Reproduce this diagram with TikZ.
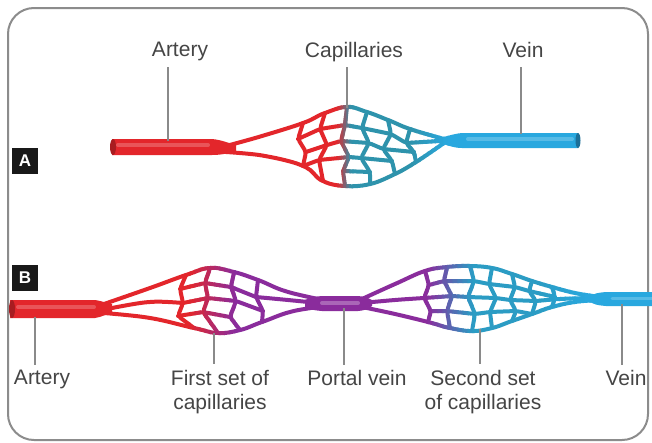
\documentclass[tikz,border=0pt]{standalone}
\usepackage{fontspec}
\newfontfamily\labelfont{Liberation Sans}

\definecolor{Ared}{HTML}{E3262B}
\definecolor{Ateal}{HTML}{2E93AC}
\definecolor{Acyan}{HTML}{29A8DF}
\definecolor{Bpurple}{HTML}{8A2C9C}
\definecolor{Bteal}{HTML}{2B9CC4}
\definecolor{reddark}{HTML}{A81C20}
\definecolor{bluedark}{HTML}{1C6F98}
\definecolor{txt}{HTML}{454545}
\definecolor{frame}{HTML}{8C8C8C}
\definecolor{leadgray}{HTML}{8A8A8A}

% capillary network of the single bed (upper vessel)
\newcommand\meshAlines{%
  % outer branches
  \draw[net] plot[smooth,tension=.6] coordinates {(226,146) (262,136) (303,123) (325,113) (347,107) (367,112) (388,120) (410,129) (444,139)};
  \draw[net] plot[smooth,tension=.6] coordinates {(226,152) (265,156) (303,166) (323,181) (345,186) (370,184) (395,174) (416,162) (444,143)};
  % columns
  \draw[net] (303,123) -- (298,139) -- (306,152) -- (303,166);
  \draw[net] (325,113) -- (320,129) -- (327,145) -- (319,160) -- (323,181);
  \draw[net] (347,107) -- (345,125) -- (341,141) -- (349,157) -- (343,171) -- (345,186);
  \draw[net] (367,112) -- (362,128) -- (369,143) -- (361,158) -- (370,172) -- (370,184);
  \draw[net] (388,120) -- (391,134) -- (383,149) -- (392,161) -- (395,174);
  \draw[net] (410,129) -- (406,143) -- (414,152) -- (416,162);
  % rows
  \draw[net] (298,139) -- (320,129) -- (345,125) -- (362,128) -- (391,134) -- (406,143) -- (440,141);
  \draw[net] (306,152) -- (327,145) -- (341,141) -- (369,143) -- (383,149) -- (414,152);
  \draw[net] (303,166) -- (319,160) -- (349,157) -- (361,158) -- (392,161);
  \draw[net] (343,171) -- (370,172);
}

\newcommand\vesselA{%
  \fill[cc] (112,139) -- (212,139) .. controls (222,140) and (228,143) .. (236,145)
    -- (236,152) .. controls (228,153) and (222,155) .. (212,155) -- (112,155) -- cycle;
  \fill[cc] (578,133) -- (462,133) .. controls (452,134) and (446,137) .. (434,139)
    -- (434,142) .. controls (446,144) and (452,148) .. (462,148) -- (578,148) -- cycle;
  \meshAlines
}

% two capillary beds joined by a portal vein (lower vessel)
\newcommand\meshBlines{%
  % first bed: outer branches and central strand
  \draw[net] plot[smooth,tension=.6] coordinates {(104,304) (150,288) (186,275) (210,268) (234,272) (258,280) (285,291) (318,299)};
  \draw[net] plot[smooth,tension=.6] coordinates {(104,313) (150,318) (194,328) (218,333) (240,330) (262,322) (290,312) (318,307)};
  \draw[net] plot[smooth,tension=.6] coordinates {(112,308) (150,302) (183,303)};
  \draw[net] plot[smooth,tension=.6] coordinates {(256,297) (288,300) (318,303)};
  % first bed: columns
  \draw[net] (186,275) -- (180,289) -- (183,303) -- (178,316) -- (194,328);
  \draw[net] (210,268) -- (205,283) -- (208,298) -- (203,312) -- (218,333);
  \draw[net] (234,272) -- (231,287) -- (236,301) -- (230,317) -- (240,330);
  \draw[net] (258,280) -- (256,297) -- (263,311) -- (262,322);
  % first bed: rows
  \draw[net] (180,289) -- (205,283) -- (231,287) -- (256,297);
  \draw[net] (183,303) -- (208,298) -- (236,301) -- (263,311);
  \draw[net] (178,316) -- (203,312) -- (230,317);
  % second bed: outer branches and central strands
  \draw[net] plot[smooth,tension=.6] coordinates {(362,299) (395,284) (425,271) (447,267) (470,266) (492,268) (512,274) (532,281) (552,287) (575,293) (600,297)};
  \draw[net] plot[smooth,tension=.6] coordinates {(362,307) (395,314) (428,322) (450,328) (472,331) (492,328) (512,321) (532,314) (552,307) (575,302) (600,300)};
  \draw[net] plot[smooth,tension=.6] coordinates {(362,303) (395,300) (424,298)};
  \draw[net] plot[smooth,tension=.6] coordinates {(536,301) (560,299) (590,298)};
  % second bed: columns
  \draw[net] (425,271) -- (429,285) -- (424,298) -- (431,311) -- (428,322);
  \draw[net] (447,267) -- (444,281) -- (452,296) -- (447,311) -- (450,328);
  \draw[net] (470,266) -- (474,281) -- (468,297) -- (475,314) -- (472,331);
  \draw[net] (492,268) -- (489,284) -- (496,298) -- (490,312) -- (492,328);
  \draw[net] (512,274) -- (515,287) -- (510,300) -- (516,311) -- (512,321);
  \draw[net] (532,281) -- (529,291) -- (536,301) -- (532,314);
  \draw[net] (552,287) -- (555,297) -- (552,307);
  % second bed: rows
  \draw[net] (429,285) -- (444,281) -- (474,281) -- (489,284) -- (515,287) -- (529,291) -- (555,297);
  \draw[net] (424,298) -- (452,296) -- (468,297) -- (496,298) -- (510,300) -- (536,301);
  \draw[net] (431,311) -- (447,311) -- (475,314) -- (490,312) -- (516,311) -- (532,314);
}

\newcommand\vesselB{%
  \fill[cc] (10,300) -- (95,300) .. controls (102,301) and (106,303) .. (112,304)
    -- (112,313) .. controls (106,314) and (102,317) .. (95,318) -- (10,318) -- cycle;
  \fill[cc] (305,300) .. controls (312,297) .. (322,296) -- (358,296) .. controls (366,297) .. (372,300)
    -- (372,306) .. controls (366,310) .. (358,311) -- (322,311) .. controls (312,310) .. (305,307) -- cycle;
  \fill[cc] (588,297) .. controls (596,293) .. (606,292) -- (652,292) -- (652,306) -- (606,306) .. controls (596,305) .. (588,301) -- cycle;
  \meshBlines
}

\begin{document}
\begin{tikzpicture}[x=1pt,y=-1pt,
  net/.style={line width=4pt,color=cc,line cap=round,line join=round,rounded corners=3pt},
  lbl/.style={font=\labelfont\fontsize{21}{24}\selectfont,text=txt,inner sep=0pt,align=center,anchor=north},
  tag/.style={fill=black!90,text=white,font=\labelfont\bfseries\fontsize{17}{17}\selectfont,
    minimum width=26pt,minimum height=26pt,inner sep=0pt},
  leader/.style={draw=leadgray,line width=1.1pt}]
\useasboundingbox (0,0) rectangle (652,442);
\fill[white] (0,0) rectangle (652,442);

% outer frame
\draw[frame,line width=2pt,rounded corners=26pt] (8,8) rectangle (648,440);

% upper vessel: artery -> capillaries -> vein; colour bands, graded where the blood changes
\foreach \xa/\xb in {96/338,338/341,341/344,344/347,347/350,350/353,353/412,
    412/416,416/420,420/424,424/428,428/432,432/436,436/440,440/444,444/448,448/600}{
  \pgfmathsetmacro\xm{(\xa+\xb)/2}
  \pgfmathsetmacro\ta{100*min(1,max(0,(\xm-338)/14))}
  \pgfmathsetmacro\tb{100*min(1,max(0,(\xm-412)/36))}
  \colorlet{ca}{Ateal!\ta!Ared}
  \colorlet{cc}{Acyan!\tb!ca}
  \begin{scope}
    \clip (\xa-0.6,0) rectangle (\xb+0.6,442);
    \vesselA
  \end{scope}
}
\fill[reddark] (113,147) ellipse [x radius=3pt,y radius=8pt];
\fill[bluedark] (578,140.5) ellipse [x radius=2.5pt,y radius=7.5pt];
\draw[white,opacity=.22,line width=4pt,line cap=round] (118,145) -- (208,145);
\draw[white,opacity=.22,line width=4pt,line cap=round] (468,139) -- (572,139);

% lower vessel: artery -> capillaries -> portal vein -> capillaries -> vein
\foreach \xa/\xb in {0/190,190/195,195/200,200/205,205/210,210/215,215/220,220/225,225/230,230/235,
    235/428,428/433,433/438,438/443,443/448,448/453,453/458,458/463,463/468,468/473,
    473/540,540/545,545/550,550/555,555/560,560/565,565/570,570/575,575/580,580/585,585/590,590/652}{
  \pgfmathsetmacro\xm{(\xa+\xb)/2}
  \pgfmathsetmacro\ta{100*min(1,max(0,(\xm-190)/45))}
  \pgfmathsetmacro\tb{100*min(1,max(0,(\xm-428)/45))}
  \pgfmathsetmacro\tc{100*min(1,max(0,(\xm-540)/50))}
  \colorlet{ca}{Bpurple!\ta!Ared}
  \colorlet{cb}{Bteal!\tb!ca}
  \colorlet{cc}{Acyan!\tc!cb}
  \begin{scope}
    \clip (\xa-0.6,0) rectangle (\xb+0.6,442);
    \vesselB
  \end{scope}
}
\fill[reddark] (12,309) ellipse [x radius=3pt,y radius=9pt];
\draw[white,opacity=.22,line width=4pt,line cap=round] (18,307) -- (94,307);
\draw[white,opacity=.28,line width=4pt,line cap=round] (322,303) -- (358,303);
\draw[white,opacity=.22,line width=3pt,line cap=round] (612,298) -- (652,298);

% panel tags
\node[tag] (tagA) at (25,160.5) {A};
\node[tag] (tagB) at (25,278) {B};

% labels of the upper vessel
\node[lbl] (tArt) at (180,42) {Artery};
\node[lbl] (tCap) at (354,42) {Capillaries};
\node[lbl] (tVein) at (523,42) {Vein};
\coordinate (tArtA) at (168,67);  \coordinate (tArtB) at (168,141);
\coordinate (tCapA) at (347,67);  \coordinate (tCapB) at (347,108);
\coordinate (tVeinA) at (521,67); \coordinate (tVeinB) at (521,134);
\draw[leader] (tArtA) -- (tArtB);
\draw[leader] (tCapA) -- (tCapB);
\draw[leader] (tVeinA) -- (tVeinB);

% labels of the lower vessel
\node[lbl] (bArt) at (42,370) {Artery};
\node[lbl] (bFirst) at (220,370) {First set of\\capillaries};
\node[lbl] (bPortal) at (357,370) {Portal vein};
\node[lbl] (bSecond) at (483,370) {Second set\\of capillaries};
\node[lbl] (bVein) at (626,370) {Vein};
\coordinate (bArtA) at (35,317);    \coordinate (bArtB) at (35,365);
\coordinate (bFirstA) at (214,333); \coordinate (bFirstB) at (214,364);
\coordinate (bPortA) at (344,308);  \coordinate (bPortB) at (344,365);
\coordinate (bSecA) at (480,329);   \coordinate (bSecB) at (480,364);
\coordinate (bVeinA) at (622,304);  \coordinate (bVeinB) at (622,365);
\draw[leader] (bArtA) -- (bArtB);
\draw[leader] (bFirstA) -- (bFirstB);
\draw[leader] (bPortA) -- (bPortB);
\draw[leader] (bSecA) -- (bSecB);
\draw[leader] (bVeinA) -- (bVeinB);
\end{tikzpicture}
\end{document}
